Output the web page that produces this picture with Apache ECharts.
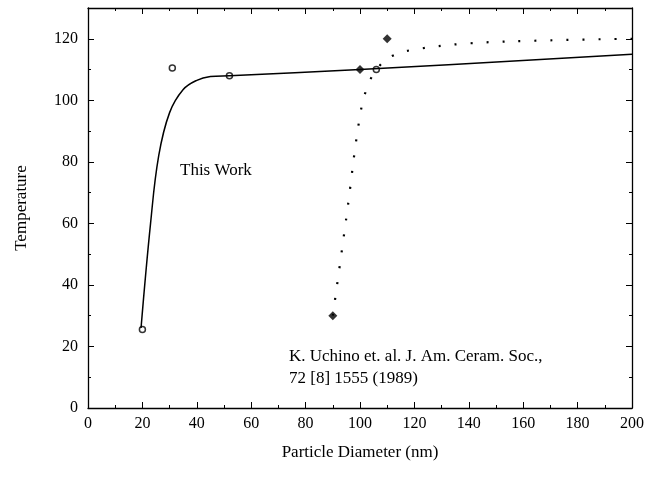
<!DOCTYPE html>
<html><head><meta charset="utf-8">
<script src="https://cdn.jsdelivr.net/npm/echarts@6/dist/echarts.min.js"></script>
<style>html,body{margin:0;background:#fff}#main{width:649px;height:483px}</style>
</head><body><div id="main"></div>
<script>
var thisWorkPts = [[20,25.5],[31,110.5],[52,108],[106,110]];
var uchinoPts = [[90,30],[100,110],[110,120]];
var solidCurve = [[19.5,26],[23,60],[26,82],[30,96],[35,103.5],[40,106.5],[45,107.7],[52,108],[100,110],[200,115]];
var dottedCurve = [[90,30],[95,62],[100,95],[103,105],[107,111],[112,114.5],[120,116.5],[140,118.5],[170,119.5],[200,120]];
var font = 'Liberation Serif';
var chart = echarts.init(document.getElementById('main'));
function axisCommon() {
  return {
    axisLine: {show: true, onZero: false, lineStyle: {color: '#000', width: 1.3}},
    axisTick: {show: true, inside: true, length: 6, lineStyle: {color: '#000'}},
    minorTick: {show: true, splitNumber: 2, length: 3, lineStyle: {color: '#000'}},
    splitLine: {show: false}
  };
}
chart.setOption({
  animation: false,
  textStyle: {fontFamily: font},
  grid: {left: 88, right: 17, top: 8, bottom: 75},
  xAxis: [
    Object.assign({type: 'value', min: 0, max: 200, interval: 20, name: 'Particle Diameter (nm)', nameLocation: 'middle', nameGap: 36,
      nameTextStyle: {fontFamily: font, fontSize: 17, color: '#000'},
      axisLabel: {fontFamily: font, fontSize: 16, color: '#000'}}, axisCommon()),
    Object.assign({type: 'value', min: 0, max: 200, interval: 20, position: 'top', axisLabel: {show: false}}, axisCommon())
  ],
  yAxis: [
    Object.assign({type: 'value', min: 0, max: 130, interval: 20, name: 'Temperature', nameLocation: 'middle', nameGap: 58,
      nameTextStyle: {fontFamily: font, fontSize: 17, color: '#000'},
      axisLabel: {fontFamily: font, fontSize: 16, color: '#000', margin: 10, showMaxLabel: false}}, axisCommon()),
    Object.assign({type: 'value', min: 0, max: 130, interval: 20, position: 'right', axisLabel: {show: false}}, axisCommon())
  ],
  series: [
    {type: 'line', data: solidCurve, smooth: 0.4, showSymbol: false, lineStyle: {color: '#000', width: 1.5}},
    {type: 'line', data: dottedCurve, smooth: 0.4, showSymbol: false, lineStyle: {color: '#000', width: 2.2, type: [2, 14]}},
    {type: 'scatter', data: thisWorkPts, symbol: 'circle', symbolSize: 6, itemStyle: {color: '#fff', borderColor: '#000', borderWidth: 1.5}},
    {type: 'scatter', data: uchinoPts, symbol: 'diamond', symbolSize: 9, itemStyle: {color: '#000'}}
  ],
  graphic: [
    {type: 'text', left: 180, top: 162, style: {text: 'This Work', font: '17px "Liberation Serif"', fill: '#000'}},
    {type: 'text', left: 289, top: 346, style: {text: 'K. Uchino et. al. J. Am. Ceram. Soc.,\n72 [8] 1555 (1989)', font: '17px "Liberation Serif"', lineHeight: 22, fill: '#000'}}
  ]
});
</script></body></html>
